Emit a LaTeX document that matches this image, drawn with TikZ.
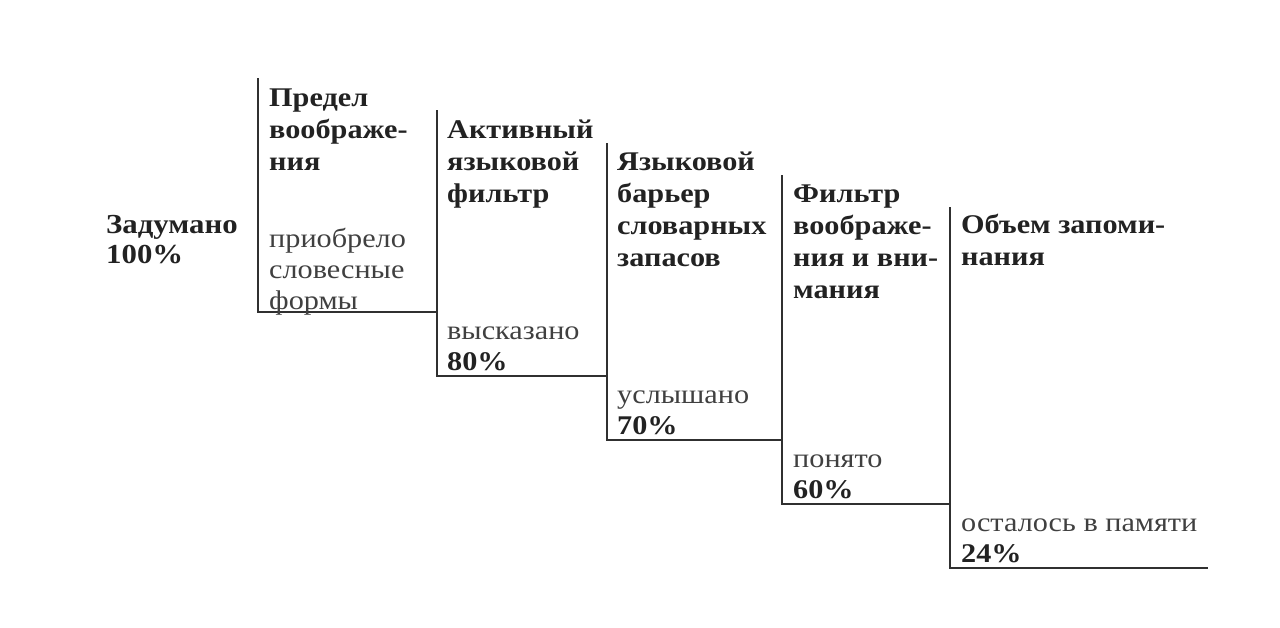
\documentclass[tikz,border=0pt]{standalone}
\usepackage{fontspec}
\setmainfont[FakeStretch=1.12]{Liberation Serif}
\definecolor{ink}{HTML}{222222}
\definecolor{soft}{HTML}{404040}
\definecolor{rule}{HTML}{303030}
\begin{document}
\begin{tikzpicture}[x=1pt,y=-1pt,
  head/.style={anchor=base west, align=left, inner sep=0pt, text=ink,
    font=\bfseries\fontsize{27}{32}\selectfont},
  note/.style={anchor=base west, align=left, inner sep=0pt, text=soft,
    font=\fontsize{27}{31}\selectfont},
  stepline/.style={draw=rule, line width=2.7pt, line cap=butt, line join=miter}]
\useasboundingbox (0,0) rectangle (1280,627);
% corners
\coordinate (t1) at (258,78);  \coordinate (b1) at (258,312);
\coordinate (t2) at (437,110); \coordinate (b2) at (437,376);
\coordinate (t3) at (607,143); \coordinate (b3) at (607,440);
\coordinate (t4) at (782,175); \coordinate (b4) at (782,504);
\coordinate (t5) at (950,207); \coordinate (b5) at (950,568);
\coordinate (e5) at (1208,568);
\draw[stepline] (t1) -- (b1) -- (b2 |- b1);
\draw[stepline] (t2) -- (b2) -- (b3 |- b2);
\draw[stepline] (t3) -- (b3) -- (b4 |- b3);
\draw[stepline] (t4) -- (b4) -- (b5 |- b4);
\draw[stepline] (t5) -- (b5) -- (e5);
% start (anchor = baseline of last line)
\node[head, font=\bfseries\fontsize{27.5}{30}\selectfont] (start) at (106,263) {Задумано\\100\%};
% headings
\node[head] (h1) at (269,170) {Предел\\воображе-\\ния};
\node[head] (h2) at (447,202) {Активный\\языковой\\фильтр};
\node[head] (h3) at (617,266) {Языковой\\барьер\\словарных\\запасов};
\node[head] (h4) at (793,298) {Фильтр\\воображе-\\ния и вни-\\мания};
\node[head] (h5) at (961,265) {Объем запоми-\\нания};
% results
\node[note] (r1) at (269,309) {приобрело\\словесные\\формы};
\node[note] (r2) at (447,370) {высказано\\{\bfseries\color{ink}80\%}};
\node[note] (r3) at (617,434) {услышано\\{\bfseries\color{ink}70\%}};
\node[note] (r4) at (793,498) {понято\\{\bfseries\color{ink}60\%}};
\node[note] (r5) at (961,562) {осталось в памяти\\{\bfseries\color{ink}24\%}};
\end{tikzpicture}
\end{document}
